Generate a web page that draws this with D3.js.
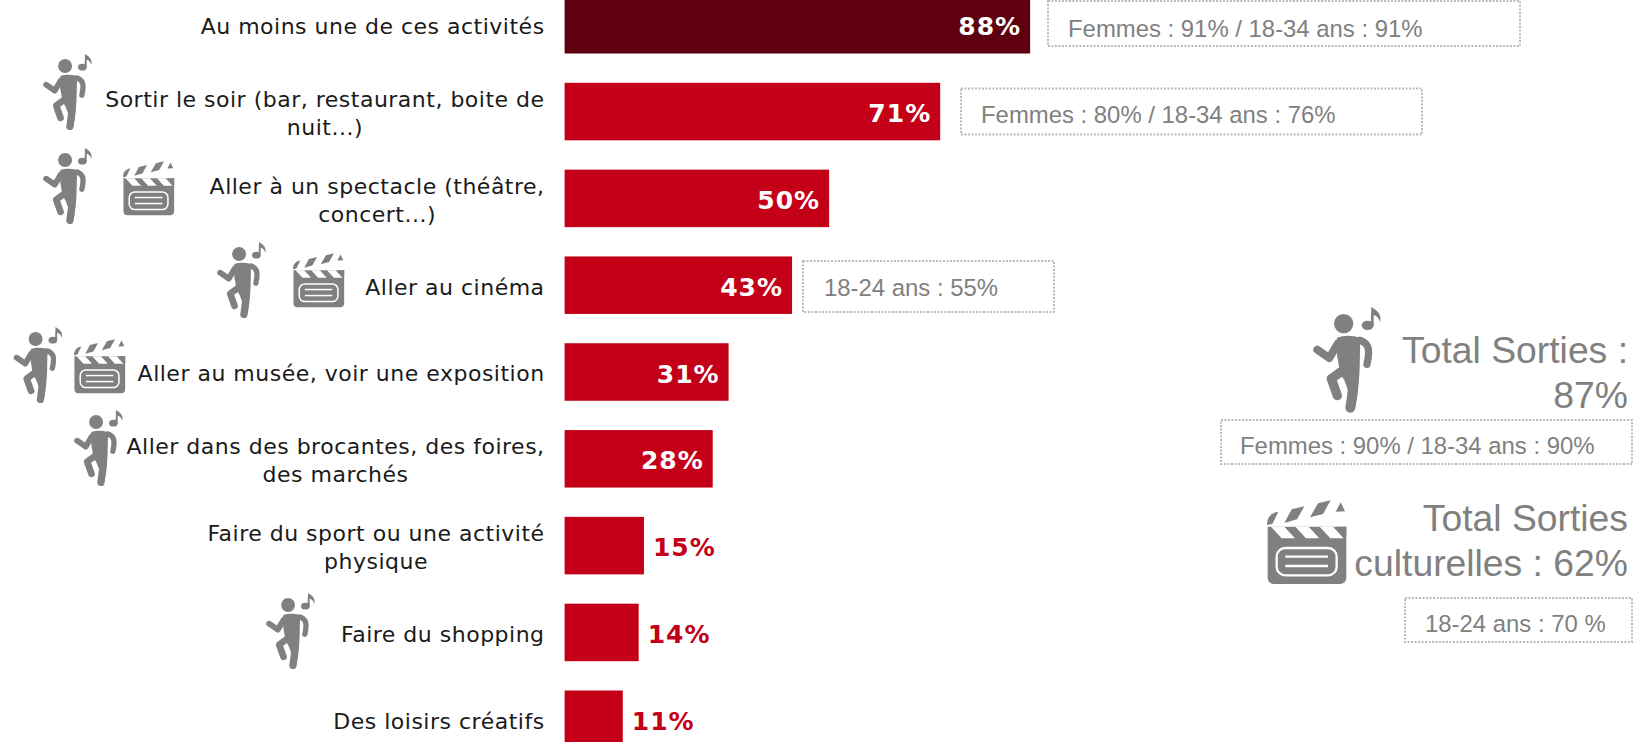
<!DOCTYPE html>
<html>
<head>
<meta charset="utf-8">
<script src="https://cdn.jsdelivr.net/npm/d3@7"></script>
<style>
    html, body { margin: 0; padding: 0; background: #fff; overflow: hidden; }
    svg { display: block; }
</style>
</head>
<body>
<div id="chart"></div>
<script>
const categories = [
    'Au moins une de ces activités',
    'Sortir le soir (bar, restaurant, boite de\nnuit...)',
    'Aller à un spectacle (théâtre,\nconcert...)',
    'Aller au cinéma',
    'Aller au musée, voir une exposition',
    'Aller dans des brocantes, des foires,\ndes marchés',
    'Faire du sport ou une activité\nphysique',
    'Faire du shopping',
    'Des loisirs créatifs'
];
const values = [88, 71, 50, 43, 31, 28, 15, 14, 11];
const noteTexts = [
    'Femmes : 91% / 18-34 ans : 91%',
    'Femmes : 80% / 18-34 ans : 76%',
    '18-24 ans : 55%',
    'Femmes : 90% / 18-34 ans : 90%',
    '18-24 ans : 70 %'
];
const totalTexts = ['Total Sorties :', '87%', 'Total Sorties', 'culturelles : 62%'];

const width = 1633;
const height = 742;
const grey = '#808080';
const red = '#c40018';
const darkRed = '#5f000f';
const labelFont = '"DejaVu Sans", sans-serif';
const noteFont = '"Liberation Sans", Arial, sans-serif';

const svg = d3.select('#chart')
    .append('svg')
    .attr('width', width)
    .attr('height', height);

const defs = svg.append('defs');

// Icons are drawn in a local box, then scaled where they are used
const dancer = defs.append('g').attr('id', 'dancer').attr('transform', 'translate(-458,-80)');
dancer.append('circle').attr('cx', 550).attr('cy', 130).attr('r', 29).attr('fill', grey);
dancer.append('ellipse').attr('cx', 622).attr('cy', 135).attr('rx', 18).attr('ry', 14).attr('fill', grey);
dancer.append('path').attr('fill', grey)
    .attr('d', 'M631,135 L633,80 C645,88 665,98 660,125 C655,112 648,106 640,104 L640,135 Z');
dancer.append('path').attr('fill', grey)
    .attr('d', 'M530,172 C550,164 575,164 600,172 L598,260 C597,300 592,350 584,385 L552,300 L540,280 L530,225 Z');
dancer.append('path').attr('fill', 'none').attr('stroke', grey).attr('stroke-width', 24)
    .attr('stroke-linecap', 'round').attr('stroke-linejoin', 'round')
    .attr('d', 'M471,208 L507,233 L532,190');
dancer.append('path').attr('fill', 'none').attr('stroke', grey).attr('stroke-width', 22)
    .attr('stroke-linecap', 'round').attr('stroke-linejoin', 'round')
    .attr('d', 'M600,180 C625,190 630,205 620,252');
dancer.append('path').attr('fill', 'none').attr('stroke', grey).attr('stroke-width', 30)
    .attr('stroke-linecap', 'round').attr('d', 'M578,270 C580,310 576,350 570,382');
dancer.append('path').attr('fill', 'none').attr('stroke', grey).attr('stroke-width', 28)
    .attr('stroke-linecap', 'round').attr('stroke-linejoin', 'round')
    .attr('d', 'M550,268 L513,295 L531,346');

const clapper = defs.append('g').attr('id', 'clapper').attr('transform', 'translate(-320,-660)');
clapper.append('path').attr('fill', grey)
    .attr('d', 'M322,740 H558 V892 Q558,912 538,912 H342 Q322,912 322,892 Z');
// white chevrons across the top of the body
['M332,740 H372 L404,775 H364 Z', 'M405,740 H445 L477,775 H437 Z', 'M478,740 H518 L550,775 H510 Z']
    .forEach(d => clapper.append('path').attr('d', d).attr('fill', '#fff'));
clapper.append('path').attr('fill', grey).attr('d', 'M530,740 H558 V772 Z');
clapper.append('rect').attr('x', 349).attr('y', 804).attr('width', 180).attr('height', 82).attr('rx', 26)
    .attr('fill', grey).attr('stroke', '#fff').attr('stroke-width', 7);
[830, 858].forEach(yy => clapper.append('line')
    .attr('x1', 375).attr('x2', 503).attr('y1', yy).attr('y2', yy)
    .attr('stroke', '#fff').attr('stroke-width', 7));
// the slanted blades of the open clapper stick
['M320,735 C320,712 332,698 354,695 L336,732 Z',
 'M372,729 L394,688 L432,679 L410,718 Z',
 'M449,712 L473,670 L511,661 L488,702 Z',
 'M526,695 L541,667 L554,694 Z']
    .forEach(d => clapper.append('path').attr('d', d).attr('fill', grey));

const x = d3.scaleLinear().domain([0, 100]).range([564.6, 1093.6]);
const y = d3.scaleBand().domain(categories).range([-4, 748]).paddingInner(0.3376).paddingOuter(0);

// Bars
svg.selectAll('rect.bar')
    .data(categories)
    .enter()
    .append('rect')
    .attr('class', 'bar')
    .attr('x', x(0))
    .attr('y', d => y(d))
    .attr('width', (d, i) => x(values[i]) - x(0))
    .attr('height', y.bandwidth())
    .attr('fill', (d, i) => i === 0 ? darkRed : red);

// Value labels, inside the bar when there is room
svg.selectAll('text.value')
    .data(categories)
    .enter()
    .append('text')
    .attr('class', 'value')
    .attr('x', (d, i) => values[i] >= 20 ? x(values[i]) - 9 : x(values[i]) + 9)
    .attr('y', d => y(d) + y.bandwidth() / 2 + 1.5)
    .attr('dy', '0.36em')
    .attr('text-anchor', (d, i) => values[i] >= 20 ? 'end' : 'start')
    .attr('font-family', labelFont)
    .attr('font-weight', 'bold')
    .attr('font-size', 25)
    .attr('letter-spacing', 1)
    .attr('fill', (d, i) => values[i] >= 20 ? '#fff' : red)
    .text((d, i) => values[i] + '%');

// Category axis. Two line labels sit right against the bars, their lines centred on each other
const axis = svg.append('g')
    .attr('transform', `translate(${x(0)},0)`)
    .call(d3.axisLeft(y).tickSize(0).tickPadding(20));
axis.select('.domain').remove();
axis.selectAll('.tick text')
    .attr('font-family', labelFont)
    .attr('font-size', 22)
    .attr('letter-spacing', 0.5)
    .attr('fill', '#1a1a1a')
    .each(function (d) {
        const lines = d.split('\n');
        const t = d3.select(this).text(lines[0]).attr('dy', null);
        const firstWidth = this.getComputedTextLength();
        t.text(null).attr('text-anchor', 'middle');
        lines.forEach((line, i) => {
            t.append('tspan')
                .attr('x', -20 - firstWidth / 2)
                .attr('y', (i - (lines.length - 1) / 2) * 28 + 1.5)
                .attr('dy', '0.36em')
                .text(line);
        });
    });

// Small icons next to the labels
const smallIcons = [
    { id: 'dancer', x: 43, y: 54 },
    { id: 'dancer', x: 43, y: 148 },
    { id: 'clapper', x: 123, y: 161 },
    { id: 'dancer', x: 217, y: 242 },
    { id: 'clapper', x: 293, y: 253 },
    { id: 'dancer', x: 13.5, y: 327 },
    { id: 'clapper', x: 74, y: 339 },
    { id: 'dancer', x: 74, y: 410 },
    { id: 'dancer', x: 266, y: 593 }
];
svg.selectAll('use.small')
    .data(smallIcons)
    .enter()
    .append('use')
    .attr('class', 'small')
    .attr('href', d => '#' + d.id)
    .attr('transform', d => `translate(${d.x},${d.y}) scale(${d.id === 'dancer' ? 0.24 : 0.215})`);

// Big icons of the totals
svg.append('use').attr('href', '#dancer').attr('transform', 'translate(1313,307) scale(0.3333)');
svg.append('use').attr('href', '#clapper').attr('transform', 'translate(1267,500) scale(0.3333)');

// Dotted note boxes
const noteBoxes = [
    { x: 1048, y: 1, w: 472, h: 45, tx: 1068, ty: 28 },
    { x: 961, y: 88.5, w: 461, h: 46, tx: 981, ty: 114 },
    { x: 803, y: 261, w: 251, h: 51, tx: 824, ty: 287 },
    { x: 1221, y: 420, w: 411, h: 44, tx: 1240, ty: 445 },
    { x: 1405, y: 598, w: 227, h: 44, tx: 1425, ty: 623 }
];
const notes = svg.selectAll('g.note')
    .data(noteBoxes)
    .enter()
    .append('g')
    .attr('class', 'note');
notes.append('rect')
    .attr('x', d => d.x)
    .attr('y', d => d.y)
    .attr('width', d => d.w)
    .attr('height', d => d.h)
    .attr('fill', 'none')
    .attr('stroke', '#bbb')
    .attr('stroke-width', 2)
    .attr('stroke-dasharray', '2 1.5');
notes.append('text')
    .attr('x', d => d.tx)
    .attr('y', d => d.ty)
    .attr('dy', '0.36em')
    .attr('font-family', noteFont)
    .attr('font-size', 23.9)
    .attr('fill', grey)
    .text((d, i) => noteTexts[i]);

// Totals on the right
const totalY = [363, 408, 531, 576];
svg.selectAll('text.total')
    .data(totalTexts)
    .enter()
    .append('text')
    .attr('class', 'total')
    .attr('x', 1628)
    .attr('y', (d, i) => totalY[i])
    .attr('text-anchor', 'end')
    .attr('font-family', noteFont)
    .attr('font-size', 37.3)
    .attr('fill', grey)
    .text(d => d);
</script>
</body>
</html>
